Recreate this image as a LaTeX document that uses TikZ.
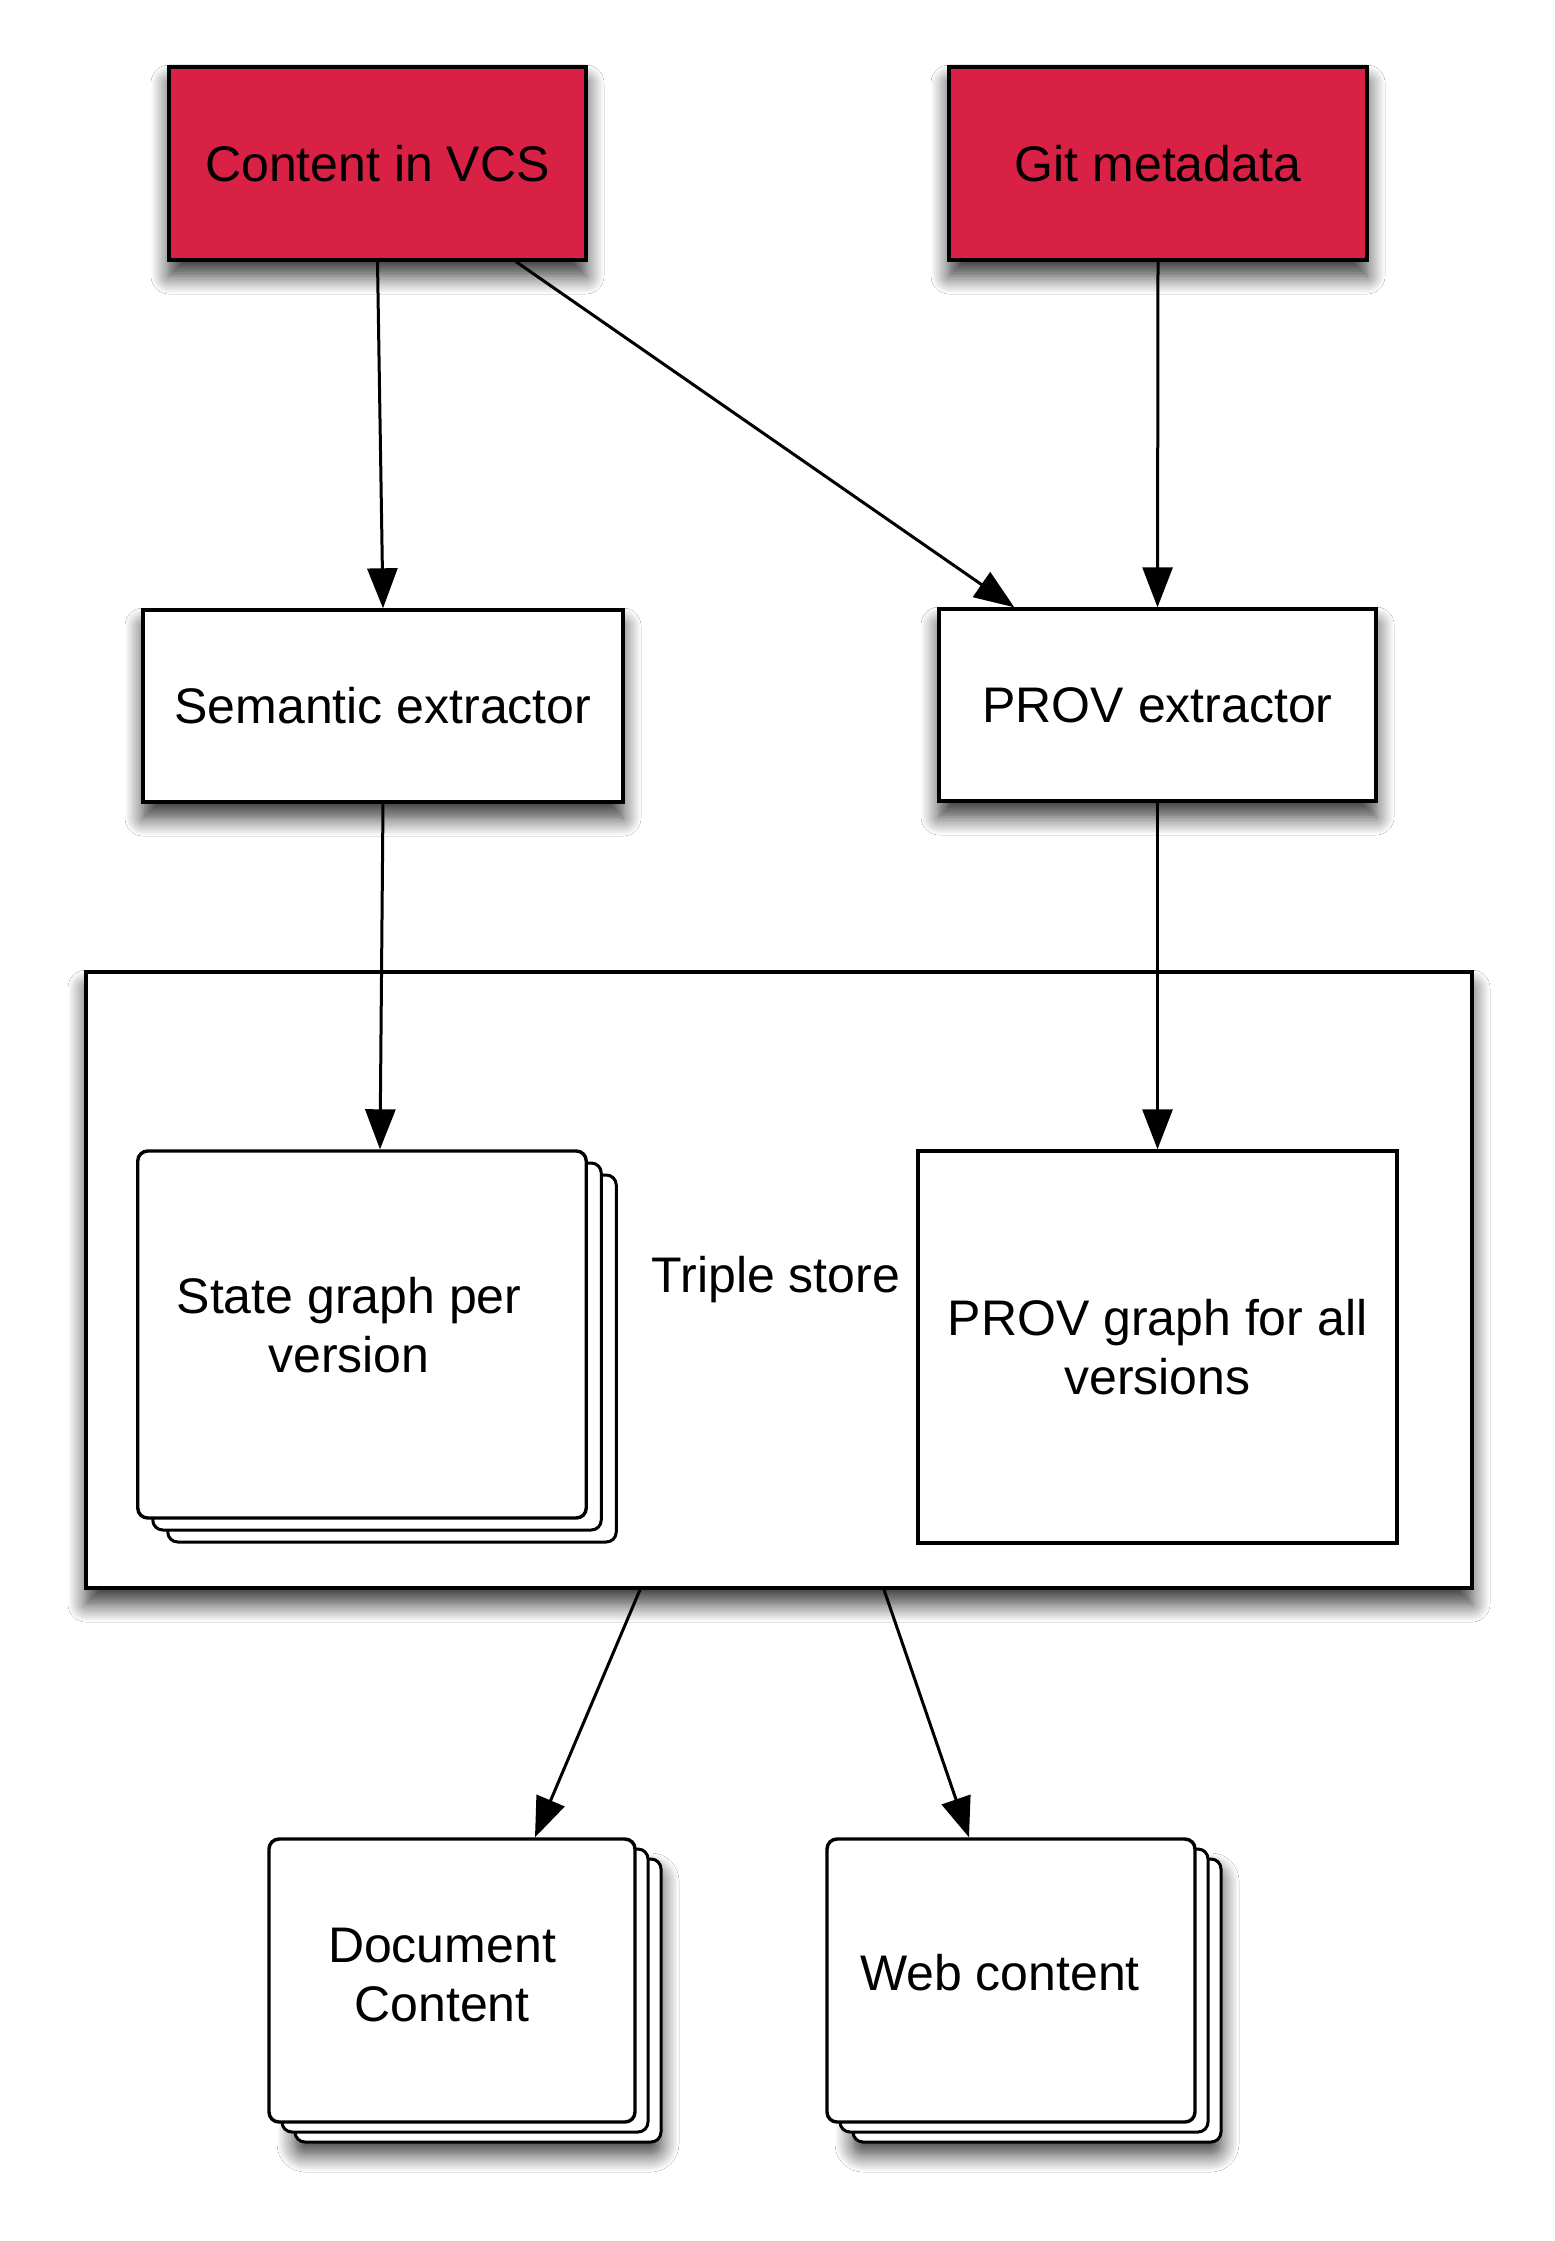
\documentclass[tikz,border=0pt]{standalone}
\usepackage{fontspec}
\setmainfont{Liberation Sans}
\usetikzlibrary{arrows.meta,shadows,shadows.blur,calc}
\definecolor{vcsred}{RGB}{216,33,68}
\tikzset{
  lbl/.style={font=\fontsize{25}{29.5}\selectfont,align=center,inner sep=0pt},
  boxline/.style={draw=black,line width=1.7pt},
  sh/.style={blur shadow={shadow xshift=0pt,shadow yshift=-8pt,shadow blur radius=9pt,shadow blur steps=12,shadow opacity=80}},
  redbox/.style={boxline,fill=vcsred,sh,lbl,minimum width=208.5pt,minimum height=96.5pt},
  whitebox/.style={boxline,fill=white,sh,lbl},
  stackbox/.style n args={3}{boxline,fill=white,rounded corners=5pt,lbl,
    #1,
    general shadow={fill=white,draw=black,line width=1.5pt,shadow xshift=2*#2,shadow yshift=-2*#3},
    general shadow={fill=white,draw=black,line width=1.5pt,shadow xshift=#2,shadow yshift=-#3}},
  stacksh/.style={blur shadow={shadow xshift=13pt,shadow yshift=-16pt,shadow blur radius=9pt,shadow blur steps=12,shadow opacity=80}},
  conn/.style={line width=1.5pt,-{Triangle[length=20pt,width=15pt]}},
}
\begin{document}
\begin{tikzpicture}[x=0.5pt,y=-0.5pt]
\useasboundingbox[fill=white] (0,0) rectangle (1554,2241);

% top sources
\node[redbox] (vcs) at (377.5,163.5) {Content in VCS};
\node[redbox,minimum width=209pt] (git) at (1158,163.5) {Git metadata};

% extractors
\node[whitebox,minimum width=240pt,minimum height=96pt] (sem) at (383,706) {Semantic extractor};
\node[whitebox,minimum width=218.5pt,minimum height=96pt] (prov) at (1157.5,705) {PROV extractor};

% triple store
\node[whitebox,minimum width=693pt,minimum height=308pt] (triple) at (779,1280) {};
\node[lbl] (tripletxt) at (776,1280) {Triple store};

\node[stackbox={}{7.5pt}{6pt},minimum width=224.25pt,minimum height=183.5pt] (state) at (362,1334.5) {};
\node[lbl] (statetxt) at (349,1325) {State graph per\\version};

\node[boxline,fill=white,lbl,minimum width=239.5pt,minimum height=196pt] (provg) at (1157.5,1347) {PROV graph for all\\versions};

% outputs
\node[stackbox={stacksh}{6.5pt}{5pt},minimum width=183pt,minimum height=141.5pt] (doc) at (452,1980.5) {};
\node[lbl] (doctxt) at (442,1975) {Document\\Content};

\node[stackbox={stacksh}{6.5pt}{5pt},minimum width=184pt,minimum height=141.5pt] (web) at (1011,1980.5) {};
\node[lbl] (webtxt) at (1000,1973) {Web content};

% connectors
\draw[conn] (vcs.south) -- (sem.north);
\draw[conn] ([xshift=69.25pt]vcs.south) -- ([xshift=38.5pt]prov.north west);
\draw[conn] (git.south) -- (prov.north);
\draw[conn] (sem.south) -- ([xshift=9pt]state.north);
\draw[conn] (prov.south) -- (provg.north);
\draw[conn] ([xshift=-69.5pt]triple.south) -- ([xshift=41.5pt]doc.north);
\draw[conn] ([xshift=52.5pt]triple.south) -- ([xshift=-21pt]web.north);
\end{tikzpicture}
\end{document}
